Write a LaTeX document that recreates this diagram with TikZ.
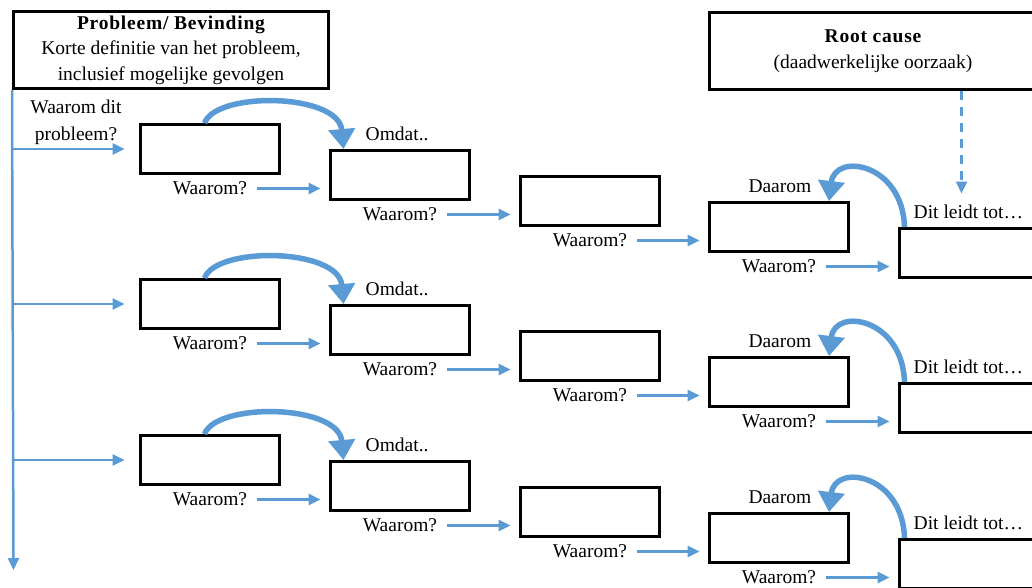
\documentclass[tikz,border=0pt]{standalone}
\usepackage{fontspec}
\setmainfont{Liberation Serif}
\usetikzlibrary{arrows.meta,calc}
\definecolor{bl}{HTML}{5B9BD5}
\newcommand{\spb}[1]{{\bfseries\addfontfeatures{LetterSpace=4}#1}}
\begin{document}
\begin{tikzpicture}[x=1pt,y=-1pt,
  box/.style={draw,line width=3pt,minimum width=139pt,minimum height=49pt,inner sep=0pt},
  lbl/.style={inner sep=0pt,font=\fontsize{19.5}{27}\selectfont},
  arr/.style={draw=bl,line width=2.5pt,-{Triangle[length=12pt,width=11pt]}},
  bigarr/.style={draw=bl,line width=5.5pt,-{Triangle[length=20pt,width=26pt]}},
  dasharr/.style={arr,dash pattern=on 9pt off 7pt}]
\useasboundingbox (0,0) rectangle (1032,588);
\clip (0,0) rectangle (1032,588);
% top boxes
\node[box,minimum width=315pt,minimum height=77pt,align=center,
      font=\fontsize{19.5}{25.5}\selectfont] (prob) at (171,50)
  {\spb{Probleem/ Bevinding}\\Korte definitie van het probleem,\\inclusief mogelijke gevolgen};
\node[box,minimum width=327pt,minimum height=77pt,align=center,
      font=\fontsize{19.5}{25.5}\selectfont] (root) at (873,51)
  {\spb{Root cause}\\(daadwerkelijke oorzaak)};
\node[lbl,align=center] (wdp) at (76,122) {Waarom dit\\probleem?};
% spine
\coordinate (spend) at (13.5,570);
\draw[arr] (prob.south west) -- (spend);
% rows
\foreach \r/\dy in {1/0,2/155,3/311}{
  \node[box] (A\r) at (210,149+\dy) {};
  \node[box] (B\r) at (400,175+\dy) {};
  \node[box] (C\r) at (590,201+\dy) {};
  \node[box] (D\r) at (779,227+\dy) {};
  \node[box,minimum width=200pt] (E\r) at (999.5,253+\dy) {};
  \draw[arr] (prob.south west |- A\r.west) -- ([xshift=-14.5pt]A\r.west);
  \foreach \p/\q in {A/B,B/C,C/D,D/E}{
    \node[lbl] (w\p\r) at ($(\p\r.south)+(0,13.5)$) {Waarom?};
    \draw[arr] ([xshift=10pt]w\p\r.east) -- ([xshift=-8.5pt]w\p\r.east -| \q\r.west);
  }
  \node[lbl,anchor=base west] (om\r) at ($(B\r.north west)+(36.5,-8.5)$) {Omdat..};
  \node[lbl,anchor=base east] (da\r) at ($(D\r.north west)+(103.5,-8.5)$) {Daarom};
  \node[lbl,anchor=base west] (dl\r) at ($(E\r.north west)+(15.5,-8.5)$) {Dit leidt tot…};
  \draw[bigarr] ([xshift=65.5pt]A\r.north west) .. controls +(12,-32) and +(-5,-56) .. ([xshift=14.5pt]B\r.north west);
  \draw[bigarr] ([xshift=6.5pt]E\r.north west) .. controls +(-2,-64) and +(6,-49) .. ([xshift=-21pt]D\r.north east);
}
\draw[dasharr] ([xshift=253.5pt]root.south west) -- ([xshift=63.5pt,yshift=33.5pt]E1.north west);
\end{tikzpicture}
\end{document}
